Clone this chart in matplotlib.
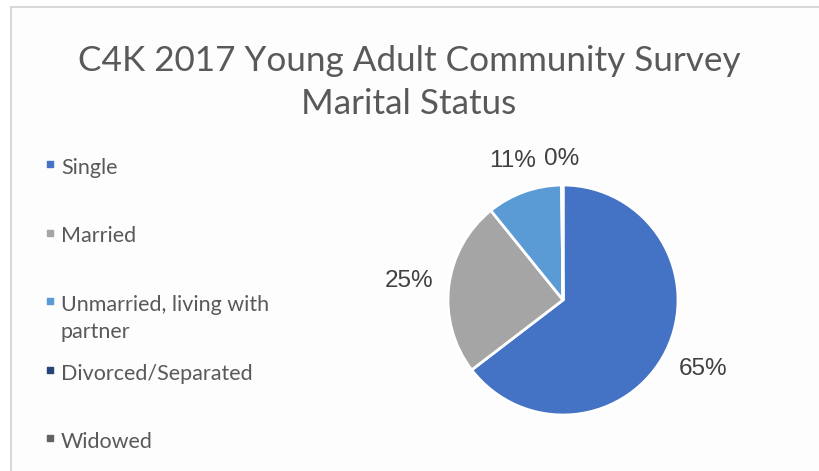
import textwrap
import matplotlib
matplotlib.use("Agg")
import matplotlib.pyplot as plt
import numpy as np
from matplotlib.patches import Rectangle

# ---- data ----
categories = ["Single", "Married", "Unmarried, living with partner",
              "Divorced/Separated", "Widowed"]
shares = [64.6, 24.6, 10.6, 0.2, 0.0]
colors = ["#4472C4", "#A5A5A5", "#5B9BD5", "#264478", "#636363"]
title_lines = ["C4K 2017 Young Adult Community Survey", "Marital Status"]

W, H = 820, 471
fig = plt.figure(figsize=(W / 100, H / 100), dpi=100)
fig.patch.set_facecolor("white")

# overlay axes in pixel coordinates for frame, title, legend
ov = fig.add_axes([0, 0, 1, 1])
ov.set_xlim(0, W)
ov.set_ylim(H, 0)
ov.axis("off")
ov.add_patch(Rectangle((11, 7), W + 20, H + 20, facecolor="#fdfdfd",
                       edgecolor="#d9d9d9", linewidth=1.5, zorder=0))

for i, line in enumerate(title_lines):
    ov.text(409, 61 + 43 * i, line, ha="center", va="center",
            fontsize=25.3, color="#595959", family="Lato")

# legend
for i, (cat, col) in enumerate(zip(categories, colors)):
    y = 171 + 68.5 * i
    ov.scatter([50], [y - 7], marker="s", s=16, color=col, zorder=3)
    ov.text(61, y - 13, textwrap.fill(cat, 22), ha="left", va="top",
            fontsize=15.5, color="#595959", family="Lato",
            linespacing=1.45)

# pie
R = 115.0
cx, cy = 563, 300
pa = fig.add_axes([(cx - R) / W, (H - cy - R) / H, 2 * R / W, 2 * R / H])
wedges, _ = pa.pie(shares, colors=colors, startangle=90, counterclock=False,
                   wedgeprops=dict(edgecolor="white", linewidth=2.0))
pa.set_xlim(-1, 1)
pa.set_ylim(-1, 1)
pa.set_aspect("equal")
pa.axis("off")

fig.canvas.draw()
renderer = fig.canvas.get_renderer()
gap = 0.13
for w, v in zip(wedges, shares):
    if v <= 0:
        continue
    ang = np.deg2rad((w.theta1 + w.theta2) / 2)
    dx, dy = np.cos(ang), np.sin(ang)
    t = pa.text(0, 0, f"{round(v):d}%", ha="center", va="center",
                fontsize=17.5, color="#404040", family="Liberation Sans",
                clip_on=False)
    bb = t.get_window_extent(renderer)
    hw = bb.width / 2 / R
    hh = bb.height / 2 / R
    d = 1 + gap + abs(dx) * hw + abs(dy) * hh
    t.set_position((dx * d, dy * d))

fig.savefig("out.png", dpi=100, facecolor="white")
